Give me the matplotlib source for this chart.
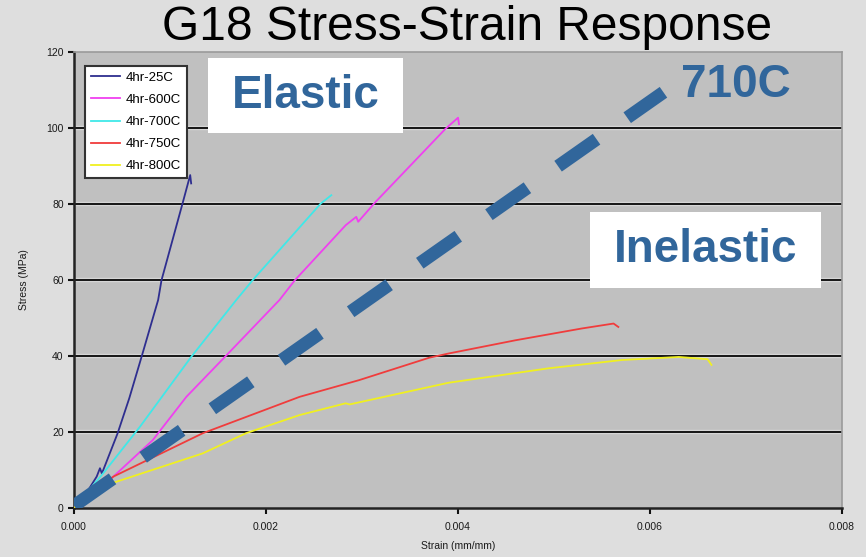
import matplotlib
matplotlib.use("Agg")
import matplotlib.pyplot as plt
from matplotlib.patches import Rectangle
from matplotlib.ticker import FormatStrFormatter

plt.rcParams['font.family'] = ['Liberation Sans', 'DejaVu Sans']

# strain (mm/mm) / stress (MPa)
strain_25 = [0.0, 0.00012, 0.000236, 0.00027, 0.00029, 0.000454, 0.000575, 0.000703,
             0.000876, 0.000911, 0.00113, 0.00121, 0.00122]
stress_25 = [0.0, 3.5, 8.2, 10.4, 9.0, 19.6, 28.8, 39.7, 54.7, 59.9, 80.1, 87.6, 85.4]

strain_600 = [0.0, 0.0001, 0.00041, 0.00082, 0.00117, 0.00159, 0.00214, 0.0023, 0.00283,
              0.00294, 0.00296, 0.00314, 0.00339, 0.00387, 0.0040, 0.00401]
stress_600 = [0.0, 2.0, 8.2, 17.8, 29.2, 40.2, 54.7, 59.9, 74.4, 76.6, 75.3, 80.5, 87.1,
              99.8, 102.7, 101.0]

strain_700 = [0.0, 0.000305, 0.000686, 0.00122, 0.00169, 0.00186, 0.00257, 0.00268]
stress_700 = [0.0, 9.1, 21.3, 39.7, 54.7, 59.9, 80.1, 82.3]

strain_750 = [0.0, 0.00041, 0.00134, 0.00235, 0.00297, 0.0037, 0.0039, 0.0046, 0.00529,
              0.00557, 0.00562, 0.00567]
stress_750 = [0.0, 8.2, 19.6, 29.2, 33.6, 39.5, 40.6, 44.1, 47.2, 48.3, 48.5, 47.6]

strain_800 = [0.0, 0.00034, 0.00134, 0.00179, 0.00235, 0.00283, 0.00287, 0.0039, 0.00494,
              0.00571, 0.0063, 0.0066, 0.00664]
stress_800 = [0.0, 6.0, 14.3, 19.6, 24.4, 27.5, 27.2, 32.9, 36.7, 38.9, 39.7, 39.1, 37.6]

strain_710 = [0.0, 0.00614]
stress_710 = [0.5, 109.4]

labels = ['4hr-25C', '4hr-600C', '4hr-700C', '4hr-750C', '4hr-800C']
colors = ['#2e2e8f', '#f040f0', '#40e8e8', '#f03c3c', '#f0f020']

fig = plt.figure(figsize=(8.66, 5.57), dpi=100, facecolor='#dedede')
ax = fig.add_axes([0.0855, 0.0885, 0.8868, 0.8181])
ax.set_facecolor('#c0c0c0')

# gridlines with the light edge
for g in [20, 40, 60, 80, 100]:
    ax.axhline(g, color='#d6d6d6', lw=3.2, zorder=1)
    ax.axhline(g, color='#151515', lw=1.4, zorder=1.1)

series = [(strain_25, stress_25), (strain_600, stress_600), (strain_700, stress_700),
          (strain_750, stress_750), (strain_800, stress_800)]
for (x, y), lab, c in zip(series, labels, colors):
    ax.plot(x, y, color=c, lw=1.3, label=lab, zorder=3)

ax.plot(strain_710, stress_710, color='#31669b', lw=9.4, solid_capstyle='butt',
        dash_capstyle='butt', linestyle=(0, (3.6, 2.87)), zorder=4)

ax.set_xlim(0, 0.008)
ax.set_ylim(0, 120)
ax.set_xticks([0, 0.002, 0.004, 0.006, 0.008])
ax.set_yticks([0, 20, 40, 60, 80, 100, 120])
ax.xaxis.set_major_formatter(FormatStrFormatter('%.3f'))
ax.tick_params(axis='both', labelsize=7.5, labelcolor='#1a1a1a', length=4, width=1.5,
               direction='out', color='#111111')
ax.tick_params(axis='x', pad=6)
for s in ['left', 'bottom']:
    ax.spines[s].set_color('#222222')
    ax.spines[s].set_linewidth(1.8)
for s in ['top', 'right']:
    ax.spines[s].set_color('#9a9a9a')
    ax.spines[s].set_linewidth(1.2)

ax.set_xlabel('Strain (mm/mm)', fontsize=7.5, color='#1a1a1a', labelpad=7)
ax.set_ylabel('Stress (MPa)', fontsize=7.5, color='#1a1a1a', labelpad=12)

leg = ax.legend(loc='upper left', bbox_to_anchor=(0.0145, 0.97), fontsize=9.5,
                frameon=True, fancybox=False, framealpha=1, handlelength=2.2,
                handletextpad=0.4, borderpad=0.45, labelspacing=0.75, borderaxespad=0)
leg.get_frame().set_edgecolor('#333333')
leg.get_frame().set_facecolor('white')
leg.get_frame().set_linewidth(1.5)
leg.set_zorder(6)

W, H = 866, 557


def box(x0, y0, x1, y1, txt):
    fig.patches.append(Rectangle((x0 / W, 1 - y1 / H), (x1 - x0) / W, (y1 - y0) / H,
                                 transform=fig.transFigure, facecolor='white',
                                 edgecolor='none', zorder=5))
    fig.text((x0 + x1) / 2 / W, 1 - (y0 + y1) / 2 / H, txt, ha='center', va='center',
             fontsize=33, fontweight='bold', color='#31669b', zorder=6)


box(208, 58, 403, 133, 'Elastic')
box(590, 212, 821, 288, 'Inelastic')
fig.text(736 / W, 1 - 85 / H, '710C', ha='center', va='center', fontsize=33,
         fontweight='bold', color='#31669b')

fig.text(467 / W, 1 - 28 / H, 'G18 Stress-Strain Response', ha='center', va='center',
         fontsize=34.5, color='black')

fig.savefig('out.png', dpi=100, facecolor=fig.get_facecolor())
